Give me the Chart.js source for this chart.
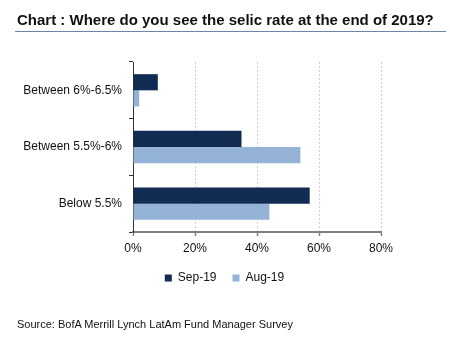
<!DOCTYPE html>
<html>
<head>
<meta charset="utf-8">
<script src="https://cdn.jsdelivr.net/npm/chart.js@4"></script>
<style>
  body { margin: 0; background: #fff; }
  #wrap { position: relative; width: 450px; height: 339px; font-family: "Liberation Sans", Arial, sans-serif; }
  #title { position: absolute; left: 15px; top: 11px; width: 431px; padding-left: 2px; box-sizing: border-box;
           font-weight: bold; font-size: 15px; color: #111; border-bottom: 1px solid #6d86a6; padding-bottom: 3px; line-height: 17px; }
  #source { position: absolute; left: 17px; top: 318px; font-size: 11px; color: #111; }
  canvas { position: absolute; left: 0; top: 0; }
</style>
</head>
<body>
<div id="wrap">
  <canvas id="myChart" width="450" height="339"></canvas>
  <div id="title">Chart : Where do you see the selic rate at the end of 2019?</div>
  <div id="source">Source: BofA Merrill Lynch LatAm Fund Manager Survey</div>
</div>
<script>
var categories = ['Between 6%-6.5%', 'Between 5.5%-6%', 'Below 5.5%'];
var sep19 = [8, 35, 57];
var aug19 = [2, 54, 44];
var xTicks = [0, 20, 40, 60, 80];

var ctx = document.getElementById('myChart').getContext('2d');
var myChart = new Chart(ctx, {
    type: 'bar',
    data: {
        labels: categories,
        datasets: [{
            label: 'Sep-19',
            backgroundColor: '#112b52',
            data: sep19
        }, {
            label: 'Aug-19',
            backgroundColor: '#95b3d7',
            data: aug19
        }]
    },
    options: {
        indexAxis: 'y',
        responsive: false,
        animation: false,
        categoryPercentage: 0.57,
        barPercentage: 1,
        layout: { padding: { left: 20, right: 21, top: 62, bottom: 45 } },
        scales: {
            x: {
                min: xTicks[0],
                max: xTicks[xTicks.length - 1],
                afterBuildTicks: function (s) { s.ticks = xTicks.map(function (v) { return { value: v }; }); },
                afterFit: function (s) { s.height = 24; },
                ticks: {
                    color: '#111',
                    font: { family: 'Liberation Sans', size: 12 },
                    padding: 5,
                    callback: function (v) { return v + '%'; }
                },
                grid: {
                    color: function (c) { return c.index === 0 ? 'rgba(0,0,0,0)' : '#d0d0d0'; },
                    tickColor: '#808080',
                    tickLength: 4,
                    tickWidth: 1.5
                },
                border: { color: '#7f7f7f', width: 2, dash: [2, 2] }
            },
            y: {
                afterFit: function (s) { s.width = 113; },
                ticks: {
                    color: '#111',
                    font: { family: 'Liberation Sans', size: 12 },
                    padding: 7
                },
                grid: {
                    drawOnChartArea: false,
                    tickColor: '#333',
                    tickLength: 4
                },
                border: { color: '#333', width: 1 }
            },
            // empty right-hand axis, only keeps room for the legend centring
            y2: {
                type: 'category',
                position: 'right',
                afterFit: function (s) { s.width = 48; },
                ticks: { display: false },
                grid: { display: false },
                border: { display: false }
            }
        },
        plugins: {
            legend: {
                position: 'bottom',
                labels: {
                    boxWidth: 7,
                    boxHeight: 7,
                    padding: 16,
                    color: '#111',
                    font: { family: 'Liberation Sans', size: 12 }
                }
            },
            tooltip: { enabled: false }
        }
    }
});
</script>
</body>
</html>
